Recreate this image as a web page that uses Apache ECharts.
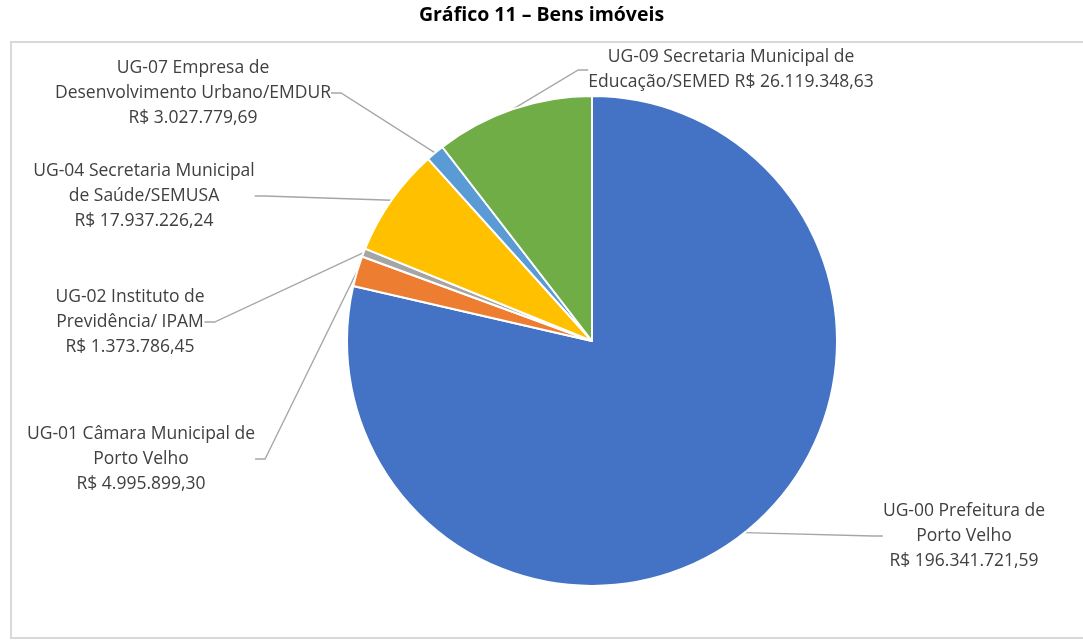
<!DOCTYPE html>
<html><head><meta charset="utf-8">
<script src="https://cdn.jsdelivr.net/npm/echarts@6/dist/echarts.min.js"></script>
<style>html,body{margin:0;padding:0;background:#fff}#c{width:1083px;height:640px}</style>
</head><body><div id="c"></div>
<script>
const title = 'Gráfico 11 – Bens imóveis';
const categories = [
  'UG-00 Prefeitura de\nPorto Velho',
  'UG-01 Câmara Municipal de\nPorto Velho',
  'UG-02 Instituto de\nPrevidência/ IPAM',
  'UG-04 Secretaria Municipal\nde Saúde/SEMUSA',
  'UG-07 Empresa de\nDesenvolvimento Urbano/EMDUR',
  'UG-09 Secretaria Municipal de\nEducação/SEMED'
];
const values = [196341721.59, 4995899.30, 1373786.45, 17937226.24, 3027779.69, 26119348.63];
const valueOnSameLine = [false, false, false, false, false, true];
const colors = ['#4472C4', '#ED7D31', '#A5A5A5', '#FFC000', '#5B9BD5', '#70AD47'];
// label anchor positions (style)
const labelPos = [[964, 536], [141, 459], [130, 322], [144, 196], [193, 93], [731, 70]];

function fmt(v) {
  return 'R$ ' + v.toLocaleString('pt-BR', {minimumFractionDigits: 2, maximumFractionDigits: 2});
}

const chart = echarts.init(document.getElementById('c'), null, {renderer: 'canvas'});
chart.setOption({
  backgroundColor: '#fff',
  animation: false,
  title: {
    text: title, left: 'center', top: 0,
    textStyle: {fontFamily: 'Open Sans', fontWeight: 'bold', fontSize: 19.5, color: '#000'}
  },
  graphic: [{
    type: 'rect', shape: {x: 11, y: 42, width: 1090, height: 596},
    style: {fill: 'none', stroke: '#d9d9d9', lineWidth: 2}, silent: true, z: -1
  }],
  series: [{
    type: 'pie',
    center: [592, 341],
    radius: 245,
    startAngle: 90,
    clockwise: true,
    itemStyle: {borderColor: '#fff', borderWidth: 2},
    label: {
      show: true,
      fontFamily: 'Open Sans', fontSize: 17.5, color: '#404040', lineHeight: 25, align: 'center',
      formatter: p => p.name + (valueOnSameLine[p.dataIndex] ? ' ' : '\n') + fmt(p.value)
    },
    labelLine: {show: true, lineStyle: {color: '#A6A6A6', width: 1.3}, length: 10, length2: 10},
    labelLayout: function (p) {
      const pos = labelPos[p.dataIndex];
      return {x: pos[0], y: pos[1], align: 'center', verticalAlign: 'middle'};
    },
    data: categories.map((n, i) => ({name: n, value: values[i], itemStyle: {color: colors[i]}}))
  }]
});
</script></body></html>
